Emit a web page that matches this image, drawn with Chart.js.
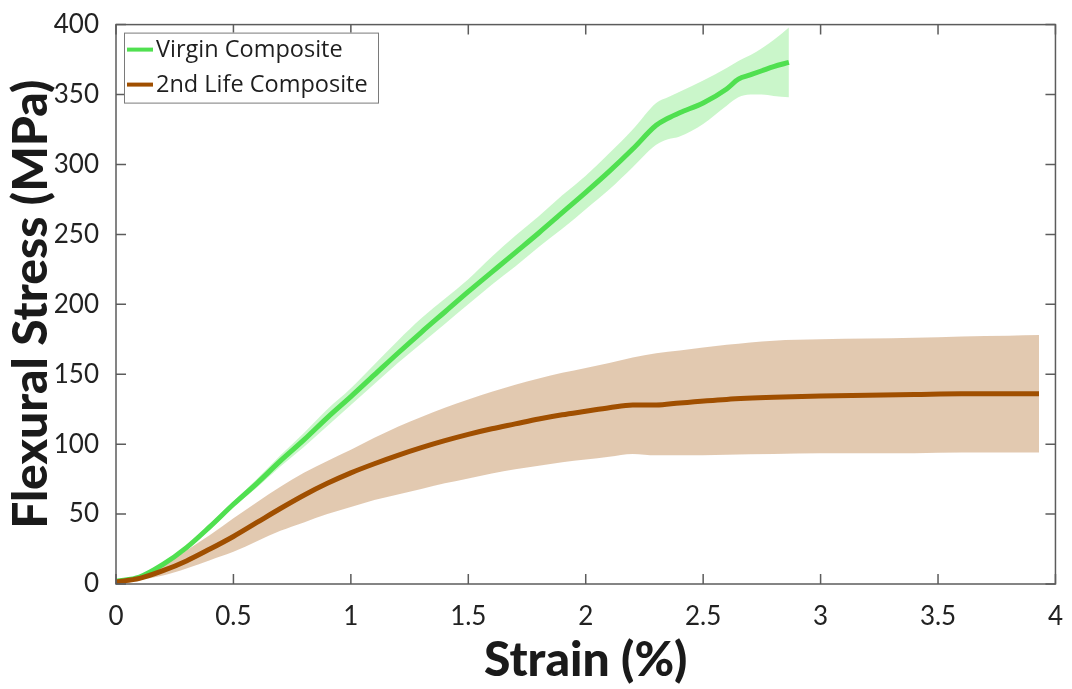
<!DOCTYPE html>
<html>
<head>
<meta charset="utf-8">
<title>Flexural stress vs strain</title>
<script src="https://cdn.jsdelivr.net/npm/chart.js@4.4.1/dist/chart.umd.min.js"></script>
<style>
  html, body { margin: 0; padding: 0; background: #fff; }
  #wrap { width: 1072px; height: 689px; position: relative; }
</style>
</head>
<body>
<div id="wrap"><canvas id="flex"></canvas></div>
<script>
/* ── data: strain (%) vs flexural stress (MPa), mean ± spread ── */

const virginStrain = [0, 0.1, 0.2, 0.3, 0.4, 0.5, 0.6, 0.7, 0.8, 0.9, 1.0, 1.1, 1.2, 1.3, 1.4, 1.5, 1.6, 1.7, 1.8, 1.9, 2.0, 2.1, 2.2, 2.3, 2.35, 2.4, 2.5, 2.6, 2.65, 2.7, 2.75, 2.8, 2.865];
const virginMean   = [2, 5, 14, 26, 41, 57, 72, 88, 103, 119, 134, 149.5, 165, 180, 194.5, 209, 223, 237, 251, 265.5, 280, 295, 311, 328, 333, 337, 344, 354, 361, 364, 367, 370, 373];
const virginLow    = [2, 4, 13, 25, 39, 55, 69, 84, 98, 113, 128, 143, 158, 172, 186, 200, 214, 227, 241, 254, 268, 282, 298, 314, 318, 320, 329, 342, 348, 350, 350, 349, 348];
const virginHigh   = [2, 6, 15, 27, 43, 59, 75, 92, 108, 125, 140, 157, 174, 190, 204, 218, 234, 249, 263, 278, 292, 308, 325, 344, 348, 352, 360, 369, 374, 378, 383, 389, 398];

const secondStrain = [0, 0.1, 0.2, 0.3, 0.4, 0.5, 0.6, 0.7, 0.8, 0.9, 1.0, 1.1, 1.2, 1.3, 1.4, 1.5, 1.6, 1.7, 1.8, 1.9, 2.0, 2.1, 2.2, 2.3, 2.4, 2.6, 2.8, 3.0, 3.2, 3.4, 3.6, 3.8, 3.93];
const secondMean   = [1.5, 4, 9.5, 16.5, 25, 34, 44, 54, 63.5, 72, 79.5, 86, 92, 97.5, 102.5, 107, 111, 114.5, 118, 121, 123.5, 126, 128, 128, 129.5, 132, 133.5, 134.5, 135, 135.5, 136, 136, 136];
const secondLow    = [1.5, 3, 6, 11, 17, 23, 30.5, 38, 44, 50, 55, 60, 64, 68, 72, 75.5, 79, 82, 84.5, 87, 89, 91, 93, 92, 92, 92.5, 93, 93.5, 93.5, 93.5, 94, 94, 94];
const secondHigh   = [1.5, 6, 13, 24, 35, 47, 58.5, 69.5, 79.5, 88, 96, 104.5, 112.5, 119.5, 126, 132, 137.5, 142.5, 147, 151, 154.5, 158, 162, 165, 167, 171, 174, 175, 175.5, 176, 177, 177.5, 178];

const xTicks = [0, 0.5, 1, 1.5, 2, 2.5, 3, 3.5, 4];
const yTicks = [0, 50, 100, 150, 200, 250, 300, 350, 400];

const GREEN = "#50e050";
const BROWN = "#a04f00";
const FONT = "Lato, 'Open Sans', sans-serif";

const pts = (xs, ys) => xs.map((x, i) => ({ x, y: ys[i] }));

/* ── box frame with inward ticks on all four sides ── */
const framePlugin = {
  id: "frame",
  afterDatasetsDraw(chart) {
    const { ctx, chartArea: a, scales: { x, y } } = chart;
    const len = 10;
    ctx.save();
    ctx.strokeStyle = "#5c5c5c";
    ctx.lineWidth = 1.5;
    ctx.strokeRect(a.left, a.top, a.right - a.left, a.bottom - a.top);
    ctx.beginPath();
    x.ticks.forEach((t) => {
      const px = x.getPixelForValue(t.value);
      ctx.moveTo(px, a.bottom); ctx.lineTo(px, a.bottom - len);
      ctx.moveTo(px, a.top);    ctx.lineTo(px, a.top + len);
    });
    y.ticks.forEach((t) => {
      const py = y.getPixelForValue(t.value);
      ctx.moveTo(a.left, py);  ctx.lineTo(a.left + len, py);
      ctx.moveTo(a.right, py); ctx.lineTo(a.right - len, py);
    });
    ctx.stroke();
    ctx.restore();
  },
};

/* ── boxed legend in the upper-left corner ── */
const legendBoxPlugin = {
  id: "legendBox",
  afterDraw(chart) {
    const { ctx, chartArea: a } = chart;
    const items = chart.data.datasets.filter((d) => d.inLegend);
    const bx = a.left + 8, by = a.top + 8, bw = 254, bh = 70;
    ctx.save();
    ctx.fillStyle = "#fff";
    ctx.fillRect(bx, by, bw, bh);
    ctx.strokeStyle = "#7a7a7a";
    ctx.lineWidth = 1;
    ctx.strokeRect(bx + 0.5, by + 0.5, bw, bh);
    ctx.font = "23.5px 'Open Sans', Lato, sans-serif";
    ctx.textBaseline = "middle";
    items.forEach((d, i) => {
      const cy = by + 17 + i * 35;
      ctx.strokeStyle = d.borderColor;
      ctx.lineWidth = 4;
      ctx.beginPath();
      ctx.moveTo(bx + 3, cy);
      ctx.lineTo(bx + 29, cy);
      ctx.stroke();
      ctx.fillStyle = "#1e1e1e";
      ctx.fillText(d.label, bx + 32, cy + 1);
    });
    ctx.restore();
  },
};

const lineBase = { pointRadius: 0, borderWidth: 5, cubicInterpolationMode: "monotone", fill: false };
const bandBase = { pointRadius: 0, borderWidth: 0, cubicInterpolationMode: "monotone" };

new Chart(document.getElementById("flex"), {
  type: "line",
  data: {
    datasets: [
      { ...lineBase, label: "Virgin Composite", data: pts(virginStrain, virginMean), borderColor: GREEN, inLegend: true, order: 1 },
      { ...lineBase, label: "2nd Life Composite", data: pts(secondStrain, secondMean), borderColor: BROWN, inLegend: true, order: 0 },
      { ...bandBase, label: "virgin low", data: pts(virginStrain, virginLow), borderColor: "transparent", fill: false, order: 3 },
      { ...bandBase, label: "virgin high", data: pts(virginStrain, virginHigh), borderColor: "transparent",
        backgroundColor: "rgba(80,224,80,0.3)", fill: "-1", order: 3 },
      { ...bandBase, label: "second low", data: pts(secondStrain, secondLow), borderColor: "transparent", fill: false, order: 4 },
      { ...bandBase, label: "second high", data: pts(secondStrain, secondHigh), borderColor: "transparent",
        backgroundColor: "rgba(160,80,0,0.31)", fill: "-1", order: 4 },
    ],
  },
  options: {
    responsive: true,
    maintainAspectRatio: false,
    animation: false,
    layout: { padding: { top: 19, right: 15, left: 0, bottom: 0 } },
    plugins: {
      legend: { display: false },
      tooltip: { enabled: false },
      filler: { drawTime: "beforeDatasetsDraw" },
    },
    scales: {
      x: {
        type: "linear",
        min: 0,
        max: 4,
        afterBuildTicks: (s) => { s.ticks = xTicks.map((v) => ({ value: v })); },
        afterFit: (s) => { s.height = 105; },
        grid: { display: false },
        border: { display: false },
        ticks: {
          padding: 9,
          color: "#222",
          font: { family: FONT, size: 26 },
          callback: (v) => String(v),
        },
        title: {
          display: true,
          text: "Strain (%)",
          color: "#1a1a1a",
          font: { family: FONT, size: 48, weight: "900" },
          padding: { top: 0, bottom: 0 },
        },
      },
      y: {
        type: "linear",
        min: 0,
        max: 400,
        afterBuildTicks: (s) => { s.ticks = yTicks.map((v) => ({ value: v })); },
        afterFit: (s) => { s.width = 116; },
        grid: { display: false },
        border: { display: false },
        ticks: {
          padding: 9,
          color: "#222",
          font: { family: FONT, size: 26 },
          callback: (v) => String(v),
        },
        title: {
          display: true,
          text: "Flexural Stress (MPa)",
          color: "#1a1a1a",
          font: { family: FONT, size: 48, weight: "900" },
          padding: { top: 3, bottom: 0 },
        },
      },
    },
  },
  plugins: [framePlugin, legendBoxPlugin],
});
</script>
</body>
</html>
